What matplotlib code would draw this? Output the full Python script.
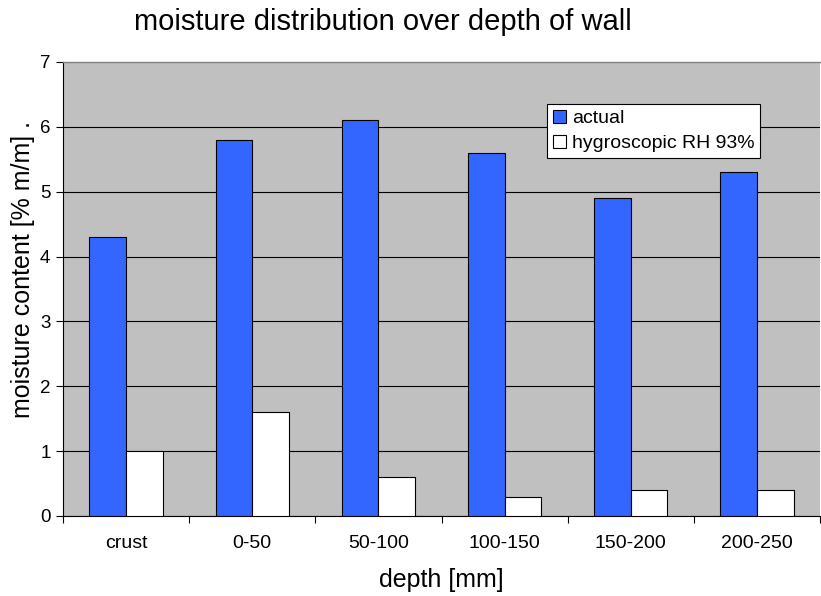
import matplotlib.pyplot as plt
import numpy as np

plt.rcParams['font.family'] = ['Liberation Sans', 'DejaVu Sans']

depths = ["crust", "0-50", "50-100", "100-150", "150-200", "200-250"]
actual = [4.3, 5.8, 6.1, 5.6, 4.9, 5.3]
hygroscopic = [1.0, 1.6, 0.6, 0.3, 0.4, 0.4]

fig = plt.figure(figsize=(8.21, 5.96), dpi=100)
ax = fig.add_axes([63 / 821, 80 / 596, 757 / 821, 454 / 596])
ax.set_facecolor("#C0C0C0")

x = np.arange(len(depths))
w = 0.29
ax.bar(x - w / 2, actual, w, color="#3366FF", edgecolor="black", linewidth=0.8,
       label="actual", zorder=3)
ax.bar(x + w / 2, hygroscopic, w, color="white", edgecolor="black", linewidth=0.8,
       label="hygroscopic RH 93%", zorder=3)

ax.set_xlim(-0.5, len(depths) - 0.5)
ax.set_ylim(0, 7)
ax.set_yticks(range(0, 8))
ax.yaxis.grid(True, color="black", linewidth=0.8, zorder=1)
ax.set_axisbelow(True)
# top edge gets the grey border instead of a gridline
ax.yaxis.get_gridlines()[-1].set_visible(False)

ax.set_xticks(x)
ax.set_xticklabels(depths, fontsize=14)
ax.set_xticks(np.arange(-0.5, len(depths) - 0.4, 1), minor=True)
ax.tick_params(axis="x", which="major", length=0, pad=14)
ax.tick_params(axis="x", which="minor", length=5, direction="out", width=0.8)
ax.tick_params(axis="y", labelsize=13.5, length=5, width=0.8, pad=4)

ax.spines["right"].set_visible(False)
ax.spines["top"].set_color("#808080")
ax.spines["top"].set_linewidth(1.0)
ax.spines["left"].set_linewidth(0.8)
ax.spines["bottom"].set_linewidth(0.8)

ax.set_xlabel("depth [mm]", fontsize=18, labelpad=11)
ax.set_ylabel("moisture content [% m/m] .", fontsize=18)
ax.yaxis.set_label_coords(-0.037, 0.544)
fig.text(383 / 821, 1 - 22 / 596, "moisture distribution over depth of wall",
         fontsize=21, ha="center", va="center")

leg = ax.legend(loc="upper left", bbox_to_anchor=(0.64, 0.907), fontsize=14,
                frameon=True, fancybox=False, edgecolor="black", framealpha=1,
                handlelength=0.65, handleheight=0.65, handletextpad=0.3,
                borderpad=0.3, labelspacing=0.4, borderaxespad=0)
leg.get_frame().set_linewidth(0.8)

fig.savefig("out.png", dpi=100)
